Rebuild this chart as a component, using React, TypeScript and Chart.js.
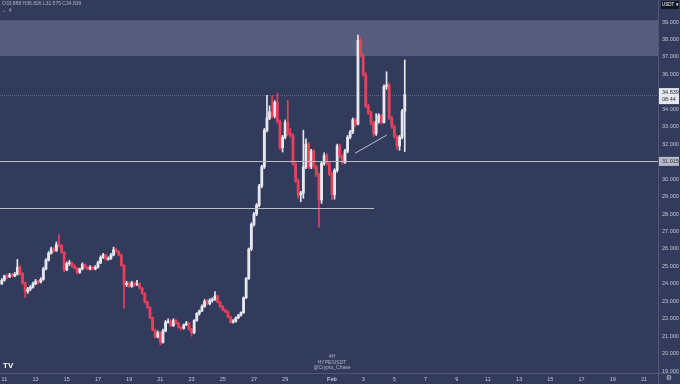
import React, { useEffect, useRef } from "react";
import { Chart, registerables } from "chart.js";
Chart.register(...registerables);

// ---- data (4H candles, HYPE/USDT) ----
const candleOpen = [
  24.0, 24.2, 24.45, 24.4, 24.5, 24.45, 24.55, 24.95, 24.6, 24.05,
  23.55, 23.7, 23.8, 24.0, 24.15, 24.1, 24.25, 24.85, 25.35, 25.75,
  26.0, 25.9, 26.25, 26.2, 25.8, 24.8, 25.15, 25.2, 25.0, 24.9,
  24.65, 24.85, 25.1, 24.95, 24.85, 24.95, 24.85, 24.95, 25.2, 25.5,
  25.65, 25.4, 25.45, 25.65, 25.95, 25.85, 25.65, 25.05, 23.95, 24.05,
  23.85, 24.05, 23.95, 24.0, 23.75, 23.45, 22.95, 22.65, 22.05, 21.35,
  20.95, 21.2, 20.65, 21.3, 21.8, 21.85, 21.6, 21.9, 21.75, 21.5,
  21.45, 21.65, 21.75, 21.4, 21.2, 21.9, 22.3, 22.45, 22.7, 23.0,
  22.85, 23.05, 23.1, 23.3, 22.95, 22.7, 22.5, 22.4, 22.1, 21.8,
  21.85, 22.05, 22.2, 22.35, 23.2, 24.3, 26.0, 27.4, 28.0, 28.5,
  29.6, 30.7, 32.8, 33.5, 33.85, 33.6, 34.4, 33.3, 31.8, 32.4,
  33.25, 32.6, 32.5, 30.85, 29.9, 29.1, 29.2, 30.7, 32.0, 30.7,
  31.6, 30.7, 30.25, 28.8, 30.9, 31.35, 30.9, 30.3, 29.1, 30.5,
  31.9, 31.3, 30.95, 31.6, 32.4, 32.7, 33.4, 33.15, 37.95, 37.1,
  35.95, 34.15, 33.8, 33.2, 32.6, 33.3, 33.65, 33.25, 35.3, 35.4,
  33.5, 33.0, 32.45, 31.9, 32.4, 33.888,
];
const candleHigh = [
  24.3, 24.5, 24.55, 24.6, 24.6, 24.65, 25.4, 25.05, 24.65, 24.1,
  23.8, 23.9, 24.1, 24.25, 24.2, 24.35, 24.95, 25.45, 25.85, 26.1,
  26.1, 26.4, 26.8, 26.25, 25.85, 25.25, 25.35, 25.25, 25.1, 24.95,
  24.9, 25.2, 25.15, 25.0, 25.05, 25.0, 25.05, 25.3, 25.6, 25.75,
  25.7, 25.55, 25.75, 26.1, 26.05, 25.9, 25.7, 25.1, 24.15, 24.1,
  24.15, 24.1, 24.2, 24.05, 23.8, 23.5, 23.0, 22.7, 22.1, 21.4,
  21.3, 21.25, 21.4, 21.9, 22.0, 21.95, 22.0, 21.95, 21.8, 21.55,
  21.7, 21.85, 21.8, 21.45, 21.95, 22.35, 22.5, 22.8, 23.1, 23.1,
  23.15, 23.2, 23.55, 23.35, 23.0, 22.75, 22.55, 22.45, 22.15, 21.95,
  22.1, 22.25, 22.4, 23.25, 24.35, 26.05, 27.5, 28.1, 28.6, 29.7,
  30.8, 32.9, 34.8, 34.2, 34.75, 34.5, 34.9, 33.4, 32.5, 33.4,
  34.5, 32.9, 32.6, 31.0, 30.0, 29.3, 32.8, 32.3, 32.1, 31.7,
  31.7, 30.8, 30.35, 31.0, 31.5, 31.45, 31.0, 30.4, 30.6, 32.0,
  32.0, 31.4, 31.7, 32.5, 32.8, 33.5, 33.5, 38.25, 38.1, 37.2,
  36.1, 34.3, 33.9, 33.3, 33.75, 33.75, 33.7, 35.4, 36.15, 35.5,
  33.6, 33.1, 32.5, 32.5, 34.0, 36.826,
];
const candleLow = [
  23.95, 24.15, 24.3, 24.35, 24.4, 24.4, 24.5, 24.5, 23.95, 23.2,
  23.45, 23.6, 23.75, 23.95, 24.0, 24.05, 24.2, 24.8, 25.3, 25.7,
  25.8, 25.85, 26.1, 25.75, 24.7, 24.75, 25.05, 24.95, 24.85, 24.55,
  24.6, 24.8, 24.9, 24.8, 24.8, 24.8, 24.8, 24.9, 25.15, 25.45,
  25.35, 25.35, 25.4, 25.6, 25.8, 25.6, 25.0, 22.6, 23.85, 23.8,
  23.8, 23.85, 23.9, 23.7, 23.4, 22.9, 22.6, 22.0, 21.3, 20.9,
  20.9, 20.5, 20.6, 21.25, 21.75, 21.55, 21.55, 21.7, 21.45, 21.35,
  21.4, 21.6, 21.35, 21.0, 21.15, 21.85, 22.2, 22.4, 22.65, 22.8,
  22.8, 22.95, 23.05, 22.9, 22.65, 22.45, 22.35, 22.05, 21.75, 21.75,
  21.8, 22.0, 22.15, 22.3, 23.15, 24.25, 25.9, 27.3, 27.9, 28.4,
  29.5, 30.6, 32.7, 33.4, 33.5, 33.5, 33.2, 31.7, 31.55, 32.3,
  32.5, 32.4, 30.8, 29.8, 28.9, 28.7, 28.9, 30.6, 30.6, 30.6,
  30.6, 30.15, 27.25, 28.6, 30.8, 30.8, 30.2, 28.8, 28.85, 30.4,
  31.2, 30.85, 30.9, 31.5, 32.3, 32.6, 33.0, 33.1, 37.0, 35.9,
  34.1, 33.7, 33.1, 32.45, 32.5, 33.2, 33.15, 33.2, 35.15, 33.4,
  32.9, 32.35, 31.7, 31.65, 32.3, 31.575,
];
const candleClose = [
  24.2, 24.45, 24.4, 24.5, 24.45, 24.55, 24.95, 24.6, 24.05, 23.55,
  23.7, 23.8, 24.0, 24.15, 24.1, 24.25, 24.85, 25.35, 25.75, 26.0,
  25.9, 26.25, 26.2, 25.8, 24.8, 25.15, 25.2, 25.0, 24.9, 24.65,
  24.85, 25.1, 24.95, 24.85, 24.95, 24.85, 24.95, 25.2, 25.5, 25.65,
  25.4, 25.45, 25.65, 25.95, 25.85, 25.65, 25.05, 23.95, 24.05, 23.85,
  24.05, 23.95, 24.0, 23.75, 23.45, 22.95, 22.65, 22.05, 21.35, 20.95,
  21.2, 20.65, 21.3, 21.8, 21.85, 21.6, 21.9, 21.75, 21.5, 21.45,
  21.65, 21.75, 21.4, 21.2, 21.9, 22.3, 22.45, 22.7, 23.0, 22.85,
  23.05, 23.1, 23.3, 22.95, 22.7, 22.5, 22.4, 22.1, 21.8, 21.85,
  22.05, 22.2, 22.35, 23.2, 24.3, 26.0, 27.4, 28.0, 28.5, 29.6,
  30.7, 32.8, 33.5, 33.85, 33.6, 34.4, 33.3, 31.8, 32.4, 33.25,
  32.6, 32.5, 30.85, 29.9, 29.1, 29.2, 30.7, 32.0, 30.7, 31.6,
  30.7, 30.25, 28.8, 30.9, 31.35, 30.9, 30.3, 29.1, 30.5, 31.9,
  31.3, 30.95, 31.6, 32.4, 32.7, 33.4, 33.15, 37.95, 37.1, 35.95,
  34.15, 33.8, 33.2, 32.6, 33.3, 33.65, 33.25, 35.3, 35.4, 33.5,
  33.0, 32.45, 31.9, 32.4, 33.888, 34.839,
];

// time axis: day-of-January (Feb 1 = 32); first candle Jan 10 20:00, 4h step
const firstCandleDay = 10 + 20 / 24;
const candleStepDays = 4 / 24;
const xTickDays = [11, 13, 15, 17, 19, 21, 23, 25, 27, 29, 32, 34, 36, 38, 40, 42, 44, 46, 48, 50, 52];
const xTickLabels = ["11", "13", "15", "17", "19", "21", "23", "25", "27", "29", "Feb", "3", "5", "7", "9", "11", "13", "15", "17", "19", "21"];
const yTickValues = [19, 20, 21, 22, 23, 24, 25, 26, 27, 28, 29, 30, 31, 32, 33, 34, 35, 36, 37, 38, 39];

// annotations
const zoneLow = 37.05;
const zoneHigh = 39.1;
const supportLevel = 31.015;
const lowerLevel = 28.34;
const lowerLevelEndDay = 34.7;
const lastPrice = 34.839;
const lastTimer = "08:44";
const trendDays = [33.48, 35.51];
const trendPrices = [31.48, 32.52];
const ohlcText = "O33.888 H36.826 L31.575 C34.839";
const watermark = ["4H", "HYPE/USDT", "@Crypto_Chase"];

const BG = "#323b5c";
const UP = "#e6e8ee";
const DOWN = "#e8405a";
const TXT = "#c3c7d3";
const FONT = "'Liberation Sans', Arial, sans-serif";

export default function App() {
  const ref = useRef<HTMLCanvasElement>(null);
  useEffect(() => {
    document.body.style.margin = "0";
    document.body.style.background = BG;
    const canvas = ref.current!;
    const dayOf = (i: number) => firstCandleDay + i * candleStepDays;
    const colors = candleOpen.map((o, i) => (candleClose[i] >= o ? UP : DOWN));
    const bodies = candleOpen.map((o, i) => ({ x: dayOf(i), y: [o, candleClose[i]] }));
    const wicks = candleOpen.map((o, i) => ({ x: dayOf(i), y: [candleLow[i], candleHigh[i]] }));

    const deco = {
      id: "deco",
      beforeDraw(c: any) {
        const ctx = c.ctx;
        ctx.save();
        ctx.fillStyle = BG;
        ctx.fillRect(0, 0, c.width, c.height);
        ctx.restore();
      },
      beforeDatasetsDraw(c: any) {
        const ctx = c.ctx;
        const y = c.scales.y;
        const a = c.chartArea;
        ctx.save();
        ctx.fillStyle = "rgba(150,156,185,0.36)";
        const y1 = y.getPixelForValue(zoneHigh);
        const y2 = y.getPixelForValue(zoneLow);
        ctx.fillRect(a.left, y1, a.right - a.left, y2 - y1);
        // last price line
        ctx.strokeStyle = "rgba(210,214,225,0.3)";
        ctx.lineWidth = 1;
        ctx.setLineDash([1, 1]);
        const py = Math.round(y.getPixelForValue(lastPrice)) + 0.5;
        ctx.beginPath();
        ctx.moveTo(a.left, py);
        ctx.lineTo(a.right, py);
        ctx.stroke();
        ctx.restore();
      },
      afterDatasetsDraw(c: any) {
        const ctx = c.ctx;
        const x = c.scales.x;
        const y = c.scales.y;
        const a = c.chartArea;
        ctx.save();
        ctx.strokeStyle = "#b8bcc8";
        ctx.lineWidth = 1;
        const s = Math.round(y.getPixelForValue(supportLevel)) + 0.5;
        ctx.beginPath();
        ctx.moveTo(a.left, s);
        ctx.lineTo(a.right, s);
        ctx.stroke();
        const l = Math.round(y.getPixelForValue(lowerLevel)) + 0.5;
        ctx.beginPath();
        ctx.moveTo(a.left, l);
        ctx.lineTo(x.getPixelForValue(lowerLevelEndDay), l);
        ctx.stroke();
        ctx.restore();
      },
      afterDraw(c: any) {
        const ctx = c.ctx;
        const y = c.scales.y;
        const a = c.chartArea;
        ctx.save();
        // borders
        ctx.strokeStyle = "rgba(255,255,255,0.14)";
        ctx.lineWidth = 1;
        ctx.beginPath();
        ctx.moveTo(a.right + 0.5, 0);
        ctx.lineTo(a.right + 0.5, c.height);
        ctx.moveTo(0, a.bottom + 0.5);
        ctx.lineTo(c.width, a.bottom + 0.5);
        ctx.stroke();
        // last price label
        const py = y.getPixelForValue(lastPrice);
        ctx.fillStyle = "#e6e8ee";
        ctx.fillRect(a.right + 1, py - 6.5, c.width - a.right - 2, 16);
        ctx.fillStyle = "#2a2e39";
        ctx.font = `5.5px ${FONT}`;
        ctx.textBaseline = "middle";
        ctx.textAlign = "left";
        ctx.fillText(lastPrice.toFixed(3), a.right + 4, py - 2);
        ctx.fillText(lastTimer, a.right + 4, py + 5);
        // support label
        const sy = y.getPixelForValue(supportLevel);
        ctx.fillStyle = "#b8bcc8";
        ctx.fillRect(a.right + 1, sy - 4.5, c.width - a.right - 2, 9);
        ctx.fillStyle = "#2a2e39";
        ctx.fillText(supportLevel.toFixed(3), a.right + 4, sy);
        // currency box
        ctx.fillStyle = "#131722";
        ctx.fillRect(a.right + 3, 1, 18, 8);
        ctx.fillStyle = "#ffffff";
        ctx.font = `4.5px ${FONT}`;
        ctx.fillText("USDT ▾", a.right + 4, 5);
        // OHLC legend
        ctx.fillStyle = "#aeb3c2";
        ctx.font = `5px ${FONT}`;
        ctx.fillText(ohlcText, 2, 4);
        ctx.fillText("⌄  4", 2, 11);
        // watermark
        ctx.textAlign = "center";
        ctx.fillStyle = "rgba(215,218,228,0.75)";
        ctx.font = `5px ${FONT}`;
        const cx = (a.left + a.right) / 2 + 3;
        watermark.forEach((t, i) => ctx.fillText(t, cx, 357 + i * 5.2));
        // TV logo
        ctx.textAlign = "left";
        ctx.fillStyle = "#ffffff";
        ctx.font = `bold 8px ${FONT}`;
        ctx.fillText("TV", 3, 366);
        // gear
        ctx.fillStyle = TXT;
        ctx.font = `7px 'DejaVu Sans', sans-serif`;
        ctx.textAlign = "center";
        ctx.fillText("⚙", 669, 378.5);
        ctx.restore();
      },
    };

    const chart = new Chart(canvas, {
      type: "bar",
      data: {
        datasets: [
          {
            type: "line",
            data: trendDays.map((d, i) => ({ x: d, y: trendPrices[i] })),
            borderColor: "rgba(225,228,236,0.8)",
            borderWidth: 1,
            pointRadius: 0,
            order: 0,
          } as any,
          {
            data: bodies as any,
            backgroundColor: colors,
            borderWidth: 0,
            barThickness: 2.2,
            grouped: false,
            minBarLength: 1,
            order: 1,
          },
          {
            data: wicks as any,
            backgroundColor: colors,
            borderWidth: 0,
            barThickness: 1,
            grouped: false,
            order: 2,
          },
        ],
      },
      options: {
        animation: false,
        responsive: false,
        devicePixelRatio: 1,
        layout: { padding: 0 },
        plugins: { legend: { display: false }, tooltip: { enabled: false } },
        scales: {
          x: {
            type: "linear",
            position: "bottom",
            min: 10.72,
            max: 52.9,
            offset: false,
            grid: { display: false, drawTicks: false, offset: false },
            border: { display: false },
            afterBuildTicks: (s: any) => {
              s.ticks = xTickDays.map((v) => ({ value: v }));
            },
            afterFit: (s: any) => {
              s.height = 11;
              s.paddingLeft = 0;
              s.paddingRight = 0;
            },
            ticks: {
              autoSkip: false,
              maxRotation: 0,
              padding: 3,
              color: TXT,
              font: (ctx: any) => ({
                family: FONT,
                size: 5.5,
                weight: ctx.tick && ctx.tick.value === 32 ? "bold" : "normal",
              }),
              callback: (v: any) => {
                const i = xTickDays.indexOf(Number(v));
                return i >= 0 ? xTickLabels[i] : "";
              },
            },
          },
          y: {
            type: "linear",
            position: "right",
            min: 18.89,
            max: 40.26,
            grid: { display: false, drawTicks: false },
            border: { display: false },
            afterBuildTicks: (s: any) => {
              s.ticks = yTickValues.map((v) => ({ value: v }));
            },
            afterFit: (s: any) => {
              s.width = 22;
              s.paddingTop = 0;
              s.paddingBottom = 0;
            },
            ticks: {
              padding: 4,
              color: TXT,
              font: { family: FONT, size: 5.5 },
              callback: (v: any) => Number(v).toFixed(3),
            },
          },
        },
      },
      plugins: [deco],
    } as any);
    return () => chart.destroy();
  }, []);
  return (
    <div style={{ width: 680, height: 384 }}>
      <canvas ref={ref} width={680} height={384} style={{ display: "block", width: 680, height: 384 }} />
    </div>
  );
}
